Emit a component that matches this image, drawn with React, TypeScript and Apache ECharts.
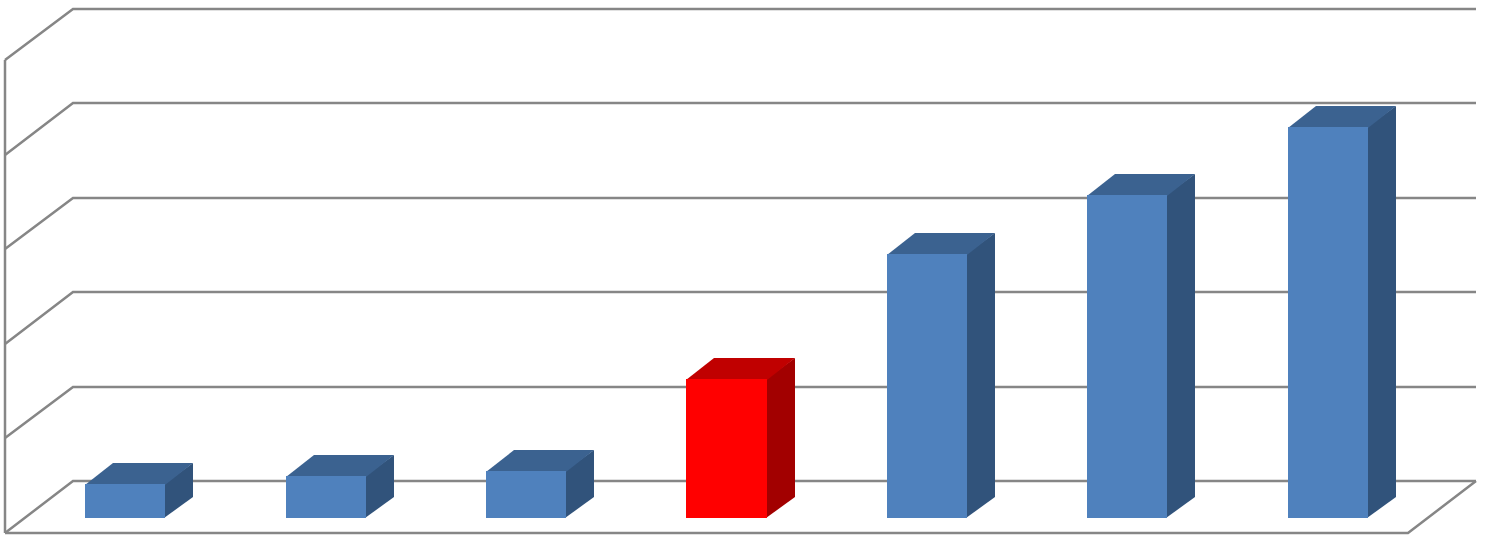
import React, { useEffect, useRef } from "react";
import * as echarts from "echarts";

const categories = ["1", "2", "3", "4", "5", "6", "7"];
const values = [0.354, 0.442, 0.488, 1.464, 2.789, 3.412, 4.131];
const highlightIndex = 3;
const yTicks = [0, 1, 2, 3, 4, 5];

const BLUE = { front: "#4F81BD", top: "#3B6290", side: "#31537B" };
const RED = { front: "#FF0000", top: "#C00000", side: "#A20000" };
const GRID_COLOR = "#868686";

// depth offsets relative to the bar front plane
const FRONT = [-20, 15];
const BACK = [48, -36.5];
const DEPTH = [28, -21];

export default function App() {
  const ref = useRef<HTMLDivElement>(null);

  useEffect(() => {
    if (!ref.current) return;
    const chart = echarts.init(ref.current, undefined, { renderer: "svg" });
    const r = (n: number) => Math.round(n);

    const wallItem = (params: any, api: any) => {
      const cs = params.coordSys;
      const v = api.value(1);
      const y = api.coord([0, v])[1];
      const x0 = cs.x;
      const x1 = cs.x + cs.width;
      const lineStyle = { stroke: GRID_COLOR, lineWidth: 2.5, fill: null };
      const children: any[] = [
        {
          type: "polyline",
          z2: 0,
          shape: {
            points: [
              [r(x0 + FRONT[0]), r(y + FRONT[1])],
              [r(x0 + BACK[0]), r(y + BACK[1])],
              [r(x1 + BACK[0]), r(y + BACK[1])],
            ],
          },
          style: lineStyle,
        },
      ];
      if (v === yTicks[0]) {
        const yTop = api.coord([0, yTicks[yTicks.length - 1]])[1];
        children.push({
          type: "line",
          z2: 0,
          shape: {
            x1: r(x0 + FRONT[0]),
            y1: r(yTop + FRONT[1]),
            x2: r(x0 + FRONT[0]),
            y2: r(y + FRONT[1]),
          },
          style: lineStyle,
        });
        children.push({
          type: "polyline",
          z2: 0,
          shape: {
            points: [
              [r(x0 + FRONT[0]), r(y + FRONT[1])],
              [r(x1 + FRONT[0]), r(y + FRONT[1])],
              [r(x1 + BACK[0]), r(y + BACK[1])],
            ],
          },
          style: lineStyle,
        });
      }
      return { type: "group", children };
    };

    const barItem = (params: any, api: any) => {
      const idx = api.value(0);
      const v = api.value(1);
      const top = api.coord([idx, v]);
      const base = api.coord([idx, 0]);
      const w = api.size([1, 0])[0] * 0.4;
      const xl = r(top[0] - w / 2);
      const xr = r(top[0] + w / 2);
      const yt = r(top[1]);
      const yb = r(base[1]);
      const c = idx === highlightIndex ? RED : BLUE;
      return {
        type: "group",
        children: [
          {
            type: "polygon",
            z2: 10,
            shape: {
              points: [
                [xr - 1, yt],
                [xr + DEPTH[0], yt + DEPTH[1]],
                [xr + DEPTH[0], yb + DEPTH[1]],
                [xr - 1, yb],
              ],
            },
            style: { fill: c.side },
          },
          {
            type: "polygon",
            z2: 11,
            shape: {
              points: [
                [xl, yt + 1],
                [xl + DEPTH[0], yt + DEPTH[1]],
                [xr + DEPTH[0], yt + DEPTH[1]],
                [xr, yt + 1],
              ],
            },
            style: { fill: c.top },
          },
          {
            type: "rect",
            z2: 12,
            shape: { x: xl, y: yt, width: xr - xl, height: yb - yt },
            style: { fill: c.front },
          },
        ],
      };
    };

    chart.setOption({
      animation: false,
      grid: { left: 25, top: 45, width: 1403, height: 472.5 },
      xAxis: {
        type: "category",
        data: categories,
        show: false,
      },
      yAxis: {
        type: "value",
        min: 0,
        max: 5,
        interval: 1,
        show: false,
      },
      series: [
        {
          type: "custom",
          name: "walls",
          clip: false,
          z: 1,
          silent: true,
          data: yTicks.map((t) => [0, t]),
          renderItem: wallItem,
        },
        {
          type: "custom",
          name: "bars",
          clip: false,
          z: 5,
          data: values.map((v, i) => [i, v]),
          renderItem: barItem,
        },
      ],
    });

    return () => chart.dispose();
  }, []);

  return (
    <div
      ref={ref}
      style={{ position: "absolute", left: 0, top: 0, width: 1485, height: 538, background: "#fff" }}
    />
  );
}
